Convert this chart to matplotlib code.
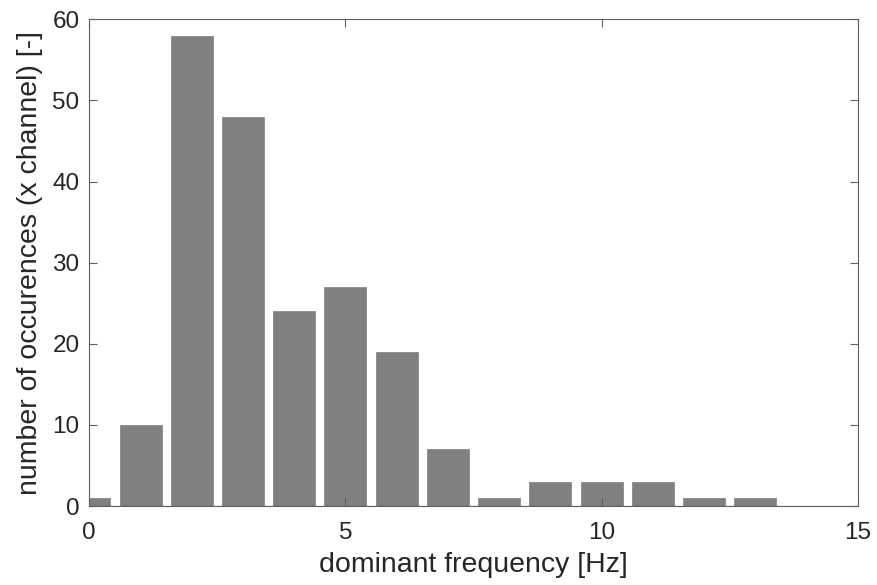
import matplotlib
matplotlib.use("Agg")
import matplotlib.pyplot as plt

freqs = [0, 1, 2, 3, 4, 5, 6, 7, 8, 9, 10, 11, 12, 13, 14, 15]
counts = [1, 10, 58, 48, 24, 27, 19, 7, 1, 3, 3, 3, 1, 1, 0, 0]
xticks = [0, 5, 10, 15]
yticks = [0, 10, 20, 30, 40, 50, 60]

plt.rcParams['font.family'] = ['Liberation Sans', 'DejaVu Sans']

fig = plt.figure(figsize=(8.78, 5.85), dpi=100)
ax = fig.add_axes([0.1017, 0.135, 0.8752, 0.832])

ax.bar(freqs, counts, width=0.82, color='#808080', edgecolor='#8a8a8a', linewidth=0.6)
ax.axhline(0, color='#404040', linewidth=0.8, zorder=1)

ax.set_xlim(0, 15)
ax.set_ylim(0, 60)
ax.set_xticks(xticks)
ax.set_yticks(yticks)

ax.tick_params(direction='in', length=6, width=0.8, color='#606060',
               labelsize=17.5, labelcolor='#262626', top=True, right=True)
ax.tick_params(axis='y', pad=7)
ax.tick_params(axis='x', pad=11.5)
for s in ax.spines.values():
    s.set_color('#606060')
    s.set_linewidth(0.8)

ax.set_xlabel('dominant frequency [Hz]', fontsize=20.5, color='#262626', labelpad=6)
ax.set_ylabel('number of occurences (x channel) [-]', fontsize=20.5, color='#262626', labelpad=6.5)

fig.savefig('out.png', dpi=100)
